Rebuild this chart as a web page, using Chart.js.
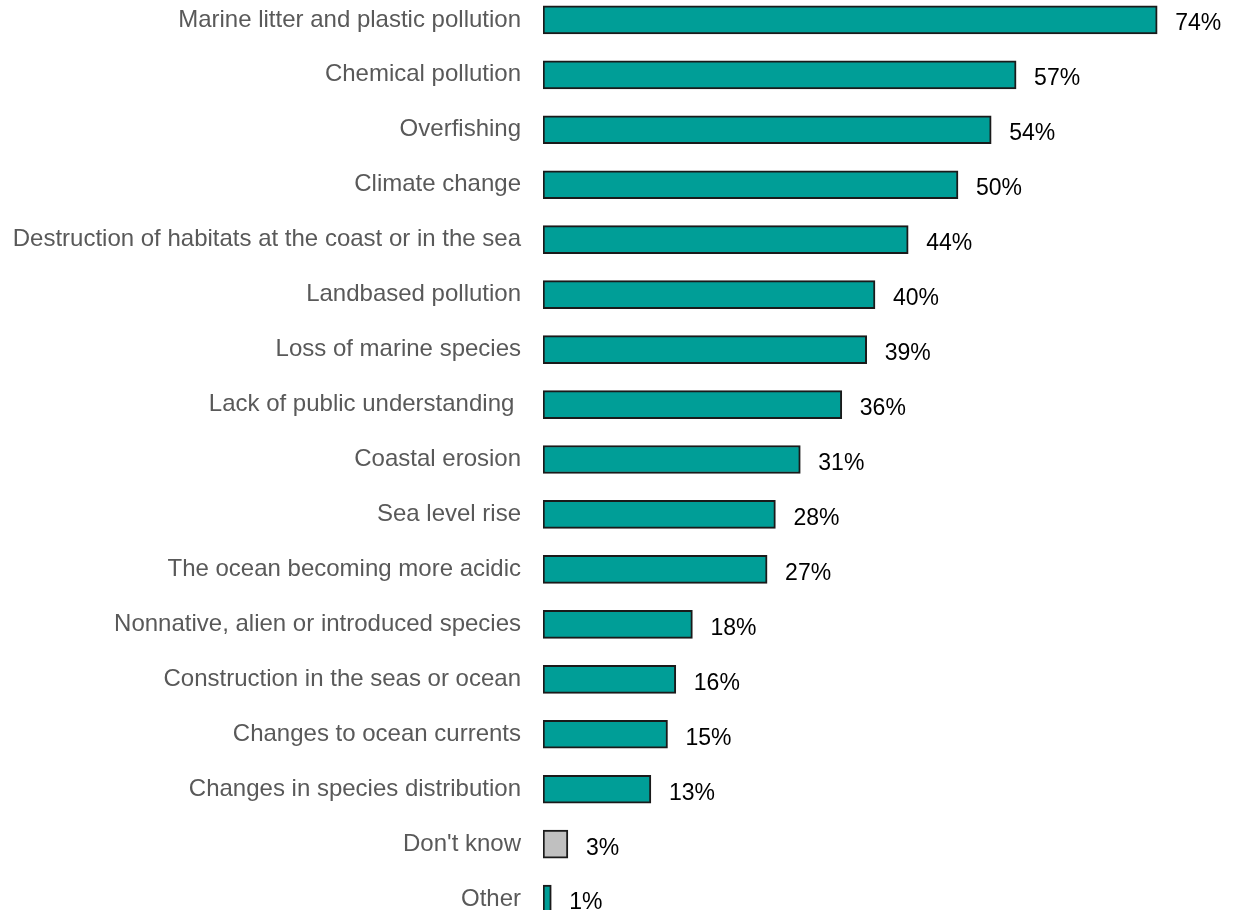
<!DOCTYPE html>
<html>
<head>
<meta charset="utf-8">
<script src="https://cdn.jsdelivr.net/npm/chart.js@4"></script>
<style>
  html, body { margin: 0; padding: 0; background: #fff; overflow: hidden; }
  #wrap { position: absolute; left: 0; top: -44px; width: 1239px; height: 1007px; }
</style>
</head>
<body>
<div id="wrap"><canvas id="issuesChart" width="1239" height="1007"></canvas></div>
<script>
// Catégories et pourcentages
const issues = [
    'Marine litter and plastic pollution',
    'Chemical pollution',
    'Overfishing',
    'Climate change',
    'Destruction of habitats at the coast or in the sea',
    'Landbased pollution',
    'Loss of marine species',
    'Lack of public understanding ',
    'Coastal erosion',
    'Sea level rise',
    'The ocean becoming more acidic',
    'Nonnative, alien or introduced species',
    'Construction in the seas or ocean',
    'Changes to ocean currents',
    'Changes in species distribution',
    "Don't know",
    'Other',
];
const shares = [74, 57, 54, 50, 44, 40, 39, 36, 31, 28, 27, 18, 16, 15, 13, 3, 1];

const teal = '#009E97';
const grey = '#C0C0C0';
const barColors = issues.map((name) => (name === "Don't know" ? grey : teal));

const fontFamily = '"Liberation Sans", Arial, sans-serif';

// Étiquettes de valeur à droite des barres
const valueLabels = {
    id: 'valueLabels',
    afterDatasetsDraw(chart) {
        const c = chart.ctx;
        const meta = chart.getDatasetMeta(0);
        c.save();
        c.font = '23px ' + fontFamily;
        c.fillStyle = '#000';
        c.textAlign = 'left';
        c.textBaseline = 'middle';
        meta.data.forEach((bar, i) => {
            c.fillText(shares[i] + '%', bar.x + 18, bar.y + 4);
        });
        c.restore();
    },
};

const ctx = document.getElementById('issuesChart').getContext('2d');
new Chart(ctx, {
    type: 'bar',
    data: {
        labels: issues,
        datasets: [
            {
                data: shares,
                backgroundColor: barColors,
                borderColor: '#1a1a1a',
                borderWidth: 2,
                borderSkipped: false,
                barThickness: 28,
            },
        ],
    },
    options: {
        indexAxis: 'y',
        responsive: false,
        animation: false,
        devicePixelRatio: 1,
        layout: { autoPadding: false, padding: { top: 0, bottom: 0, left: 0, right: 32 } },
        plugins: {
            legend: { display: false },
            tooltip: { enabled: false },
        },
        scales: {
            x: {
                display: false,
                min: 0,
                max: 80,
            },
            y: {
                afterFit(scale) {
                    scale.width = 543;
                },
                grid: { display: false, drawTicks: false },
                border: { display: false },
                ticks: {
                    padding: 22,
                    color: '#595959',
                    font: { family: fontFamily, size: 24 },
                },
            },
        },
    },
    plugins: [valueLabels],
});
</script>
</body>
</html>
